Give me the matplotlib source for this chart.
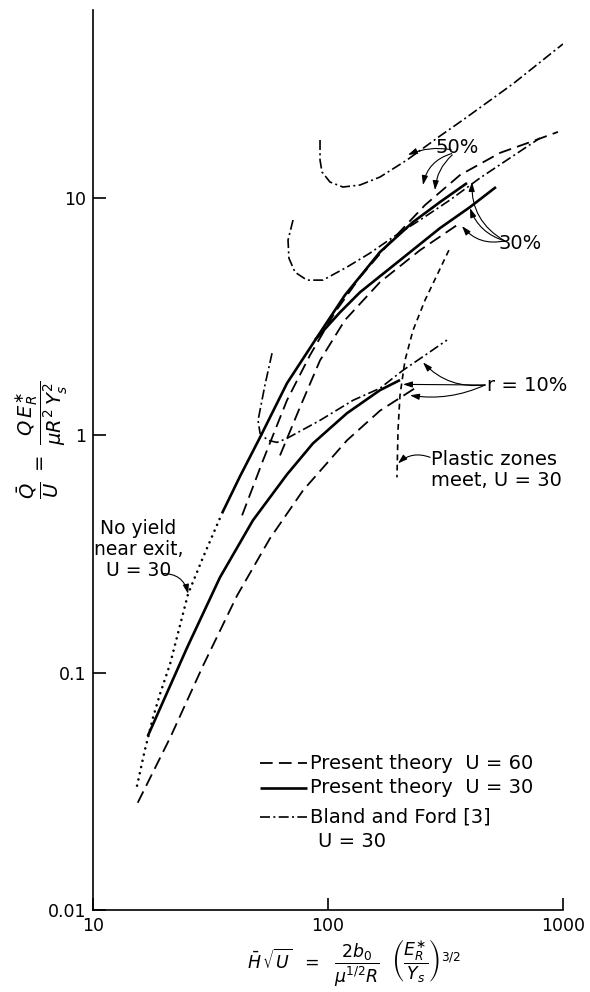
import numpy as np
import matplotlib
matplotlib.use("Agg")
import matplotlib.pyplot as plt

plt.rcParams["font.family"] = ["DejaVu Sans"]
plt.rcParams["mathtext.fontset"] = "dejavusans"

# Present theory, U = 30 (solid)
sol10_x = [17.1, 25.1, 34.7, 47.9, 66.9, 86.3, 120.5, 166.4, 202.5]
sol10_y = [0.054, 0.127, 0.252, 0.438, 0.684, 0.925, 1.24, 1.55, 1.71]
solA_x = [35.4, 42.2, 51.4, 66.9, 89.8, 118.1, 166.4, 230.0, 299.7, 390.5]
solA_y = [0.469, 0.671, 0.981, 1.657, 2.59, 3.90, 5.92, 7.92, 9.62, 11.57]
solB_x = [88.0, 112.5, 136.9, 202.5, 299.7, 402.0, 518.7]
solB_y = [2.52, 3.30, 4.01, 5.47, 7.47, 9.16, 11.13]

# Present theory, U = 60 (dashed)
dsh10_x = [15.5, 21.3, 29.4, 41.0, 56.6, 78.3, 120.5, 166.4, 234.5]
dsh10_y = [0.0283, 0.0532, 0.107, 0.211, 0.3675, 0.586, 0.953, 1.27, 1.58]
dsh30_x = [62.5, 76.0, 92.5, 118.1, 166.4, 246.4, 354.0]
dsh30_y = [0.823, 1.313, 2.07, 3.06, 4.42, 6.03, 7.69]
dsh50_x = [43.1, 52.9, 66.9, 83.8, 107.1, 136.9, 183.6, 258.7, 364.5, 539.4, 723.7, 952.0]
dsh50_y = [0.460, 0.784, 1.405, 2.175, 3.30, 4.64, 6.52, 9.34, 12.5, 15.5, 17.2, 19.0]

# Bland and Ford [3], U = 30 (dash-dot)
bf10_x = [57.8, 53.9, 50.4, 51.4, 55.5, 60.7, 66.9, 92.5, 127.8, 166.4, 208.5, 258.7, 320.8]
bf10_y = [2.22, 1.625, 1.157, 1.02, 0.953, 0.934, 0.971, 1.157, 1.405, 1.579, 1.88, 2.175, 2.52]
bf30_x = [71.0, 67.6, 68.2, 72.4, 81.4, 95.2, 120.5, 150.9, 189.1, 246.4, 330.4, 443.6, 595.0, 798.0]
bf30_y = [8.08, 6.65, 5.58, 4.87, 4.51, 4.51, 5.12, 5.86, 6.84, 8.08, 9.81, 12.15, 14.75, 17.9]
bf50_x = [92.5, 92.5, 94.3, 102.0, 115.8, 136.9, 166.4, 216.9, 299.7, 375.4, 612.8, 1000.0]
bf50_y = [17.57, 14.47, 12.88, 11.68, 11.13, 11.35, 12.26, 14.47, 18.26, 21.34, 30.3, 44.6]

# no yield near exit, U = 30 (dotted)
noy_x = [15.4, 16.6, 18.0, 19.3, 21.3, 25.4, 29.4, 35.4]
noy_y = [0.0334, 0.0469, 0.0646, 0.0815, 0.109, 0.215, 0.306, 0.469]

# plastic zones meet, U = 30 (short dashes)
pz_x = [327.0, 290.9, 258.7, 230.0, 212.7, 202.5, 198.6, 196.6]
pz_y = [6.03, 4.73, 3.71, 2.77, 2.07, 1.475, 1.05, 0.665]

fig = plt.figure(figsize=(5.9, 9.92), dpi=100)
ax = fig.add_axes([0.1576, 0.0827, 0.7966, 0.9072])
ax.set_xscale("log")
ax.set_yscale("log")
ax.set_xlim(10, 1000)
ax.set_ylim(0.01, 62)

k = "black"
solid = dict(color=k, lw=1.9, solid_capstyle="butt")
dashed = dict(color=k, lw=1.3, linestyle=(0, (7, 3.5)))
dashdot = dict(color=k, lw=1.2, linestyle=(0, (6, 2, 1.2, 2)))

ax.plot(sol10_x, sol10_y, **solid)
ax.plot(solA_x, solA_y, **solid)
ax.plot(solB_x, solB_y, **solid)
ax.plot(dsh10_x, dsh10_y, **dashed)
ax.plot(dsh30_x, dsh30_y, **dashed)
ax.plot(dsh50_x, dsh50_y, **dashed)
ax.plot(bf10_x, bf10_y, **dashdot)
ax.plot(bf30_x, bf30_y, **dashdot)
ax.plot(bf50_x, bf50_y, **dashdot)
ax.plot(noy_x, noy_y, color=k, lw=1.9, linestyle=(0, (0.01, 2.4)),
        dash_capstyle="round")
ax.plot(pz_x, pz_y, color=k, lw=1.2, linestyle=(0, (3.5, 2.6)))

for s in ["top", "right"]:
    ax.spines[s].set_visible(False)
for s in ["left", "bottom"]:
    ax.spines[s].set_linewidth(1.2)
ax.minorticks_off()
ax.set_xticks([10, 100, 1000])
ax.set_xticklabels(["10", "100", "1000"])
ax.set_yticks([0.01, 0.1, 1, 10])
ax.set_yticklabels(["0.01", "0.1", "1", "10"])
ax.tick_params(direction="in", length=9, width=1.2, labelsize=12.5, pad=5)

arw = dict(arrowstyle="-|>,head_length=0.55,head_width=0.18", color=k, lw=0.8,
           shrinkA=0, shrinkB=0)
fs = 14

# r = 50 %
ax.text(354, 16.3, "50%", fontsize=fs, ha="center", va="center")
ax.annotate("", xy=(219, 15.2), xytext=(334, 16.0),
            arrowprops=dict(arw, connectionstyle="arc3,rad=0.15"))
ax.annotate("", xy=(253.7, 11.35), xytext=(336, 15.4),
            arrowprops=dict(arw, connectionstyle="arc3,rad=0.3"))
ax.annotate("", xy=(285.4, 10.8), xytext=(338, 15.2),
            arrowprops=dict(arw, connectionstyle="arc3,rad=0.2"))

# r = 30 %
ax.text(656, 6.46, "30%", fontsize=fs, ha="center", va="center")
ax.annotate("", xy=(410, 11.68), xytext=(565, 6.6),
            arrowprops=dict(arw, connectionstyle="arc3,rad=-0.3"))
ax.annotate("", xy=(402, 9.07), xytext=(565, 6.6),
            arrowprops=dict(arw, connectionstyle="arc3,rad=-0.25"))
ax.annotate("", xy=(371.7, 7.62), xytext=(565, 6.6),
            arrowprops=dict(arw, connectionstyle="arc3,rad=-0.3"))

# r = 10 %
ax.text(475, 1.625, "r = 10%", fontsize=fs, ha="left", va="center")
ax.annotate("", xy=(253.7, 2.03), xytext=(466, 1.63),
            arrowprops=dict(arw, connectionstyle="arc3,rad=-0.25"))
ax.annotate("", xy=(208.5, 1.64), xytext=(466, 1.63),
            arrowprops=dict(arw, connectionstyle="arc3,rad=0"))
ax.annotate("", xy=(223.4, 1.475), xytext=(466, 1.63),
            arrowprops=dict(arw, connectionstyle="arc3,rad=-0.15"))

# plastic zones meet
ax.text(275, 0.712, "Plastic zones\nmeet, U = 30", fontsize=fs, ha="left",
        va="center", linespacing=1.15)
ax.annotate("", xy=(198.6, 0.762), xytext=(272, 0.808),
            arrowprops=dict(arw, connectionstyle="arc3,rad=0.3"))

# no yield near exit
ax.text(15.6, 0.330, "No yield\nnear exit,\nU = 30", fontsize=13.5, ha="center",
        va="center", linespacing=1.15)
ax.annotate("", xy=(25.4, 0.215), xytext=(19.66, 0.2617),
            arrowprops=dict(arw, connectionstyle="arc3,rad=-0.4"))

# key
tr = ax.transAxes
ax.plot([0.355, 0.455], [0.1633, 0.1633], transform=tr, **dashed)
ax.plot([0.355, 0.455], [0.1356, 0.1356], transform=tr, **solid)
ax.plot([0.355, 0.455], [0.1033, 0.1033], transform=tr, **dashdot)
ax.text(0.462, 0.1633, "Present theory  U = 60", transform=tr, fontsize=fs, va="center")
ax.text(0.462, 0.1356, "Present theory  U = 30", transform=tr, fontsize=fs, va="center")
ax.text(0.462, 0.1033, "Bland and Ford [3]", transform=tr, fontsize=fs, va="center")
ax.text(0.479, 0.0756, "U = 30", transform=tr, fontsize=fs, va="center")

fig.text(0.6, 0.029,
         r"$\bar{H}\,\sqrt{U}\ \ =\ \ \dfrac{2b_0}{\mu^{1/2}R}\ \ \left(\dfrac{E_R^{\ast}}{Y_s}\right)^{3/2}$",
         fontsize=12.5, ha="center", va="center")
fig.text(0.071, 0.5565,
         r"$\dfrac{\bar{Q}}{U}\ =\ \dfrac{Q\,E_R^{\ast}}{\mu R^2\, Y_s^2}$",
         fontsize=14, ha="center", va="center", rotation=90)

fig.savefig("out.png", dpi=100)
